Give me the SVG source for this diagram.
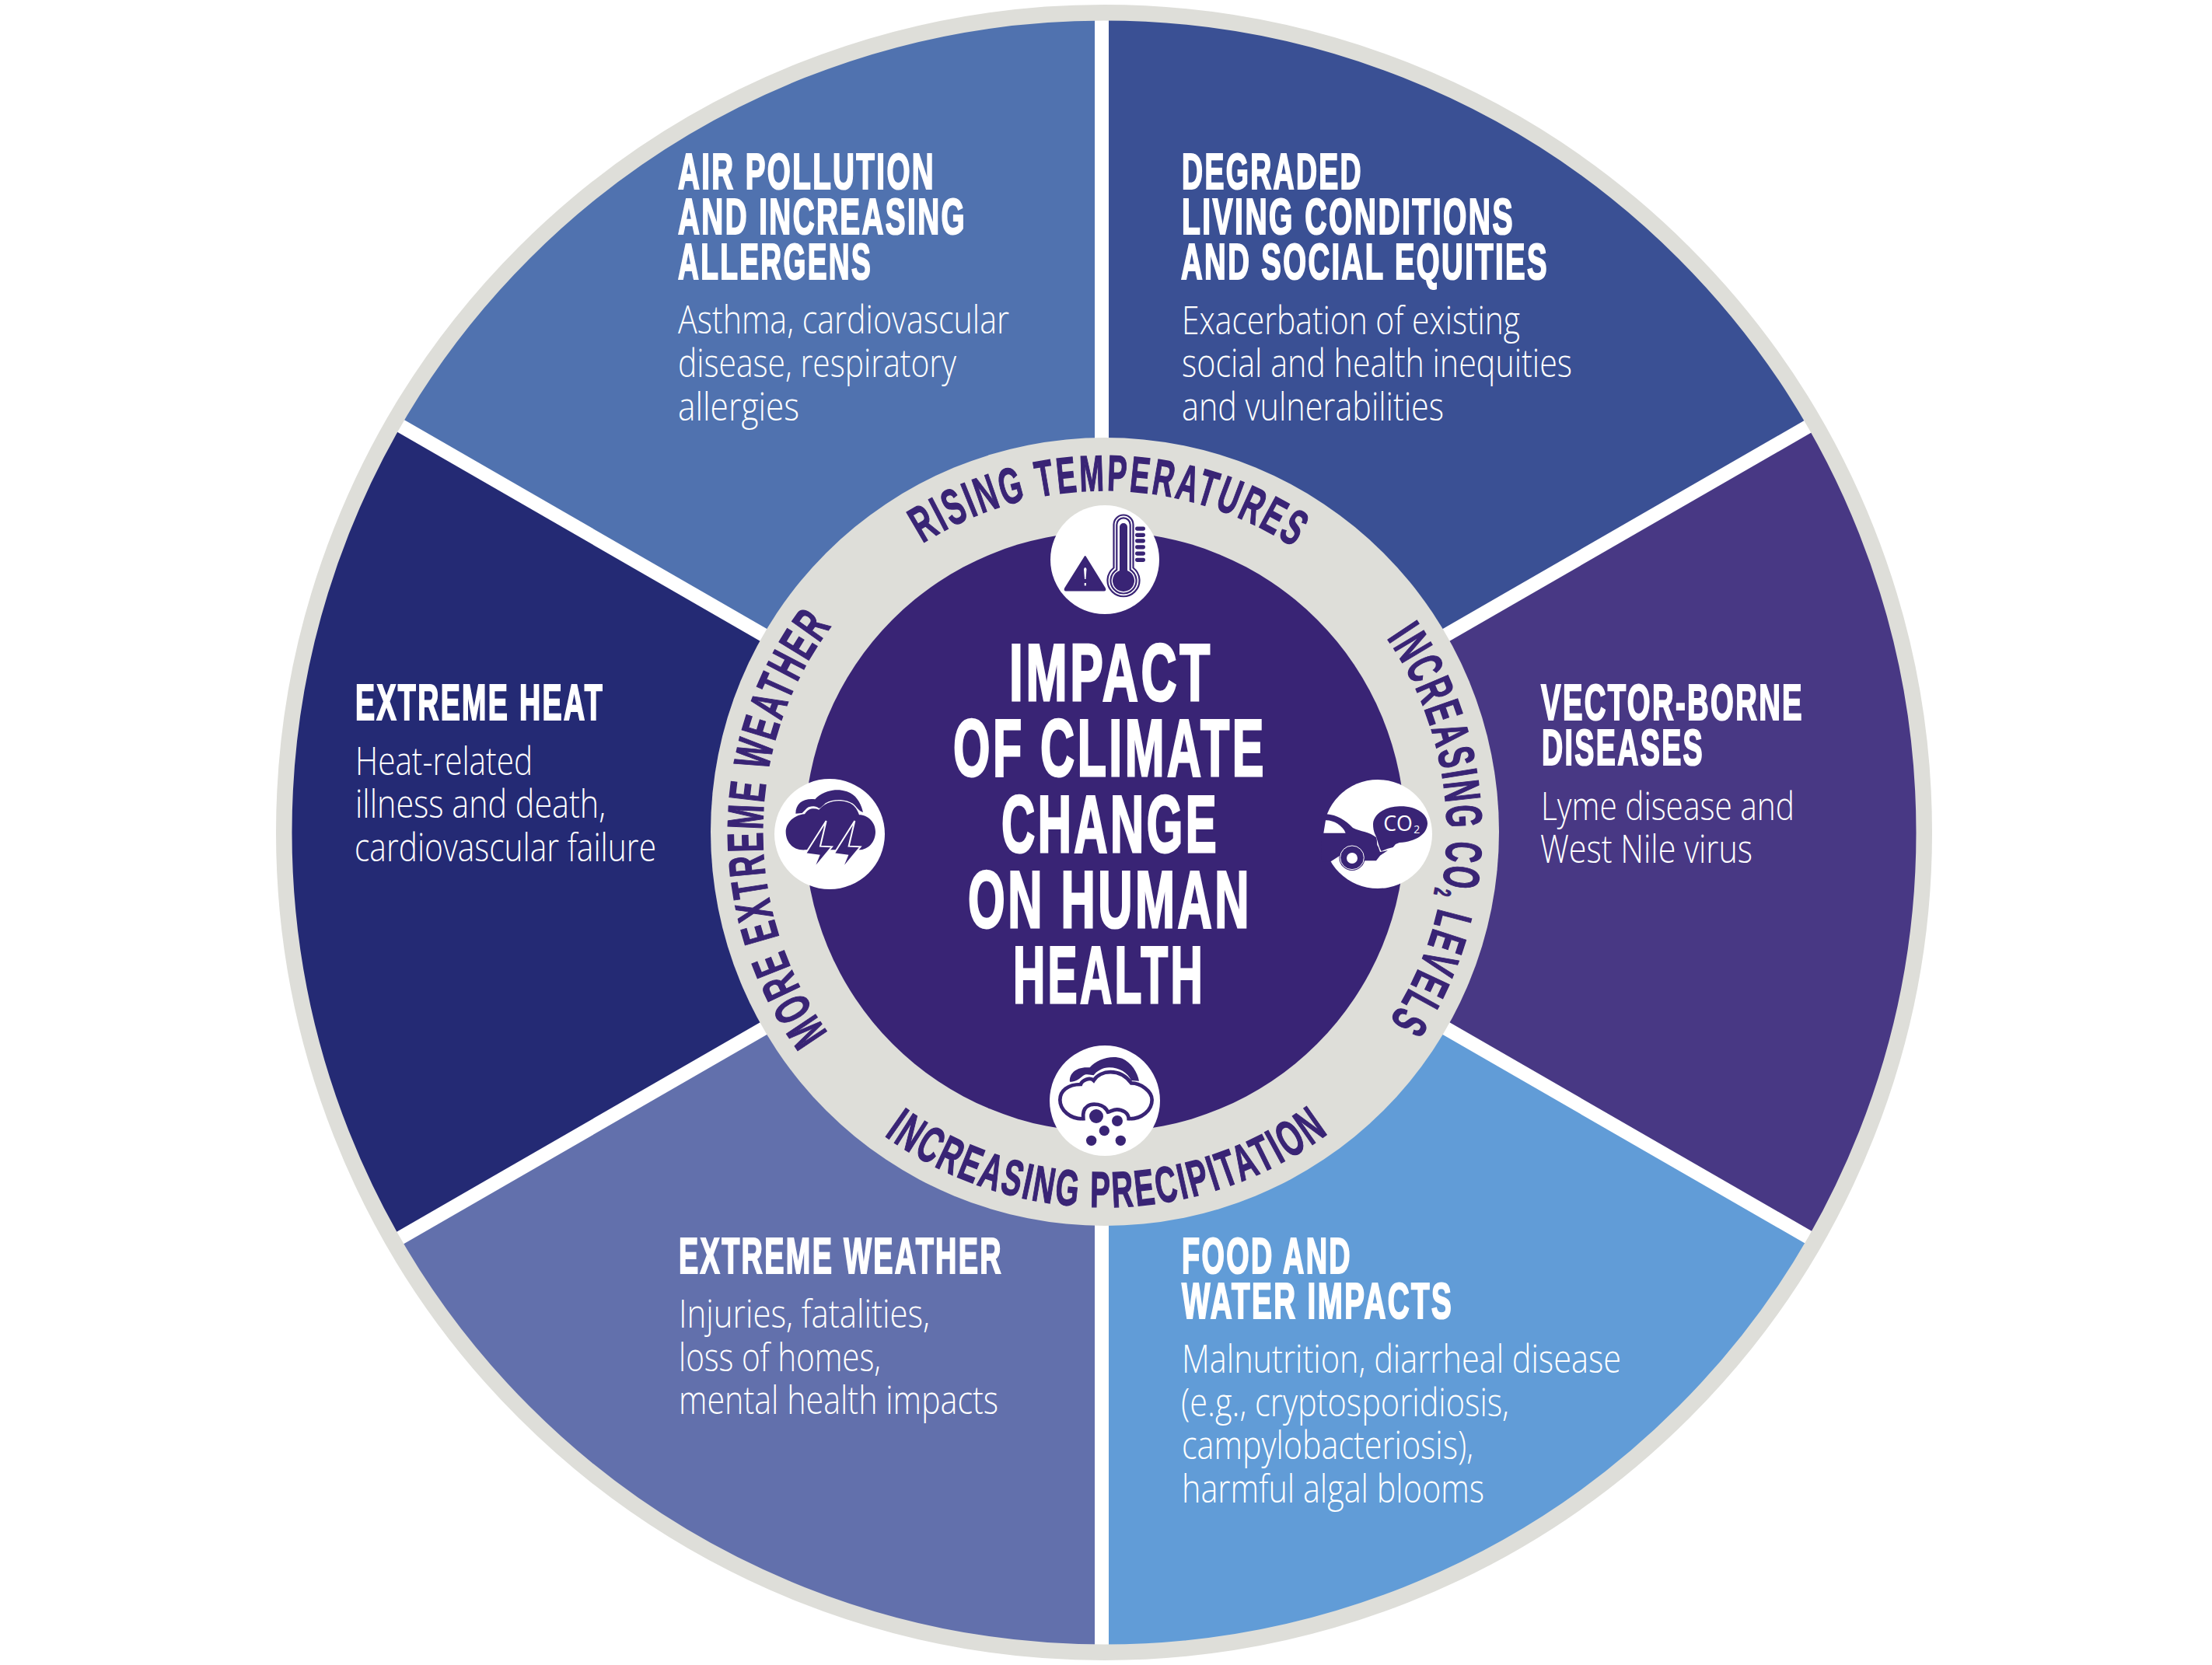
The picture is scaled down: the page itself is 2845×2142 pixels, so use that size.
<svg xmlns="http://www.w3.org/2000/svg" width="2845" height="2142" viewBox="0 0 2845 2142">
<style>
.h{font-family:"Liberation Sans Narrow","Liberation Sans",sans-serif;font-weight:700;font-size:64px;letter-spacing:4px;fill:#fff;stroke:#fff;stroke-width:2.2px}
.b{font-family:"Open Sans","Noto Sans",sans-serif;font-weight:300;font-size:50px;fill:#fff}
.t{font-family:"Liberation Sans Narrow","Liberation Sans",sans-serif;font-weight:700;font-size:104px;letter-spacing:6px;fill:#fff;stroke:#fff;stroke-width:3px}
.c{font-family:"Liberation Sans Narrow","Liberation Sans",sans-serif;font-weight:700;font-size:65px;letter-spacing:5px;fill:#392475;stroke:#392475;stroke-width:1.4px}
.d{fill:#392475}
.w{fill:#fff}
.co{font-family:"Open Sans","Noto Sans",sans-serif;font-weight:400;fill:#fff}
</style>
<defs>
<path id="arcTop" d="M1186.4,699.1 A439,439 0 0 1 1703.2,733.7"/>
<path id="arcRight" d="M1783.6,820.8 A440,440 0 0 1 1758,1352.8"/>
<path id="arcLeft" d="M1065,1328.6 A440,440 0 0 1 1104.5,764.3"/>
<path id="arcBottom" d="M1137.1,1460.8 A483,483 0 0 0 1756.5,1417.4"/>
</defs>
<rect width="2845" height="2142" fill="#fff"/>

<g id="node-air-pollution">
<path d="M1417,1070 V15 A1055,1055 0 0 0 507,545 Z" fill="#5072AF"/>
<text class="h" x="872" y="243" textLength="331" lengthAdjust="spacingAndGlyphs">AIR POLLUTION</text>
<text class="h" x="872" y="301" textLength="371" lengthAdjust="spacingAndGlyphs">AND INCREASING</text>
<text class="h" x="872" y="359" textLength="250" lengthAdjust="spacingAndGlyphs">ALLERGENS</text>
<text class="b" x="872" y="429" textLength="426" lengthAdjust="spacingAndGlyphs">Asthma, cardiovascular</text>
<text class="b" x="872" y="485" textLength="358" lengthAdjust="spacingAndGlyphs">disease, respiratory</text>
<text class="b" x="872" y="541" textLength="156" lengthAdjust="spacingAndGlyphs">allergies</text>
</g>
<g id="node-degraded-living">
<path d="M1417,1070 V15 A1055,1055 0 0 1 2335,545 Z" fill="#3A5094"/>
<text class="h" x="1520" y="243" textLength="233" lengthAdjust="spacingAndGlyphs">DEGRADED</text>
<text class="h" x="1520" y="301" textLength="428" lengthAdjust="spacingAndGlyphs">LIVING CONDITIONS</text>
<text class="h" x="1519" y="359" textLength="473" lengthAdjust="spacingAndGlyphs">AND SOCIAL EQUITIES</text>
<text class="b" x="1520" y="430" textLength="435" lengthAdjust="spacingAndGlyphs">Exacerbation of existing</text>
<text class="b" x="1520" y="485" textLength="502" lengthAdjust="spacingAndGlyphs">social and health inequities</text>
<text class="b" x="1520" y="541" textLength="337" lengthAdjust="spacingAndGlyphs">and vulnerabilities</text>
</g>
<g id="node-vector-borne">
<path d="M1421,1070 L2335,545 A1055,1055 0 0 1 2335,1595 Z" fill="#483884"/>
<text class="h" x="1982" y="926" textLength="338" lengthAdjust="spacingAndGlyphs">VECTOR-BORNE</text>
<text class="h" x="1983" y="984" textLength="209" lengthAdjust="spacingAndGlyphs">DISEASES</text>
<text class="b" x="1982" y="1055" textLength="326" lengthAdjust="spacingAndGlyphs">Lyme disease and</text>
<text class="b" x="1981" y="1110" textLength="273" lengthAdjust="spacingAndGlyphs">West Nile virus</text>
</g>
<g id="node-food-water">
<path d="M1417,1070 L2335,1595 A1055,1055 0 0 1 1417,2125 Z" fill="#619CD7"/>
<text class="h" x="1520" y="1638" textLength="219" lengthAdjust="spacingAndGlyphs">FOOD AND</text>
<text class="h" x="1520" y="1696" textLength="349" lengthAdjust="spacingAndGlyphs">WATER IMPACTS</text>
<text class="b" x="1520" y="1766" textLength="565" lengthAdjust="spacingAndGlyphs">Malnutrition, diarrheal disease</text>
<text class="b" x="1519" y="1822" textLength="422" lengthAdjust="spacingAndGlyphs">(e.g., cryptosporidiosis,</text>
<text class="b" x="1520" y="1877" textLength="375" lengthAdjust="spacingAndGlyphs">campylobacteriosis),</text>
<text class="b" x="1520" y="1933" textLength="389" lengthAdjust="spacingAndGlyphs">harmful algal blooms</text>
</g>
<g id="node-extreme-weather">
<path d="M1417,1070 L507,1595 A1055,1055 0 0 0 1417,2125 Z" fill="#6270AC"/>
<text class="h" x="873" y="1638" textLength="417" lengthAdjust="spacingAndGlyphs">EXTREME WEATHER</text>
<text class="b" x="873" y="1708" textLength="323" lengthAdjust="spacingAndGlyphs">Injuries, fatalities,</text>
<text class="b" x="873" y="1764" textLength="260" lengthAdjust="spacingAndGlyphs">loss of homes,</text>
<text class="b" x="873" y="1819" textLength="411" lengthAdjust="spacingAndGlyphs">mental health impacts</text>
</g>
<g id="node-extreme-heat">
<path d="M1421,1070 L507,545 A1055,1055 0 0 0 507,1595 Z" fill="#242A74"/>
<text class="h" x="457" y="926" textLength="320" lengthAdjust="spacingAndGlyphs">EXTREME HEAT</text>
<text class="b" x="457" y="997" textLength="228" lengthAdjust="spacingAndGlyphs">Heat-related</text>
<text class="b" x="457" y="1052" textLength="322" lengthAdjust="spacingAndGlyphs">illness and death,</text>
<text class="b" x="456" y="1108" textLength="388" lengthAdjust="spacingAndGlyphs">cardiovascular failure</text>
</g>

<g id="connectors" stroke="#fff" stroke-width="18" fill="none">
<path d="M1417,10 V2130"/>
<path d="M500,539 L2342,1601"/>
<path d="M500,1601 L2342,539"/>
</g>

<g id="outer-ring"><circle cx="1420" cy="1071" r="1054.75" fill="none" stroke="#DEDED9" stroke-width="20.5"/></g>

<g id="node-hub">
<circle cx="1421" cy="1070" r="507" fill="#DEDED9"/>
<circle cx="1421" cy="1070" r="386" fill="#392475"/>
<text class="t" x="1298" y="901" textLength="262" lengthAdjust="spacingAndGlyphs">IMPACT</text>
<text class="t" x="1226" y="998" textLength="403" lengthAdjust="spacingAndGlyphs">OF CLIMATE</text>
<text class="t" x="1288" y="1096" textLength="280" lengthAdjust="spacingAndGlyphs">CHANGE</text>
<text class="t" x="1245" y="1193" textLength="365" lengthAdjust="spacingAndGlyphs">ON HUMAN</text>
<text class="t" x="1303" y="1290" textLength="247" lengthAdjust="spacingAndGlyphs">HEALTH</text>
</g>

<g id="node-rising-temperatures">
<text class="c"><textPath href="#arcTop" textLength="507" lengthAdjust="spacingAndGlyphs">RISING TEMPERATURES</textPath></text>
<circle class="w" cx="1421" cy="720" r="70"/>
<g fill="none" stroke="#392475" stroke-width="2.2">
<path d="M1432.5,730.5 V675 A12.5,12.5 0 0 1 1457.5,675 V730.5 A20.5,20.5 0 1 1 1432.5,730.5 Z"/>
<path d="M1436.3,733 V675 A8.7,8.7 0 0 1 1453.7,675 V733 A16.5,16.5 0 1 1 1436.3,733 Z"/>
</g>
<path class="d" d="M1440,734 V678 A5,5 0 0 1 1450,678 V734 A14,14 0 1 1 1440,734 Z"/>
<g class="d">
<rect x="1460" y="677.5" width="13" height="5.2" rx="2.4"/><rect x="1460" y="685.7" width="13" height="5.2" rx="2.4"/><rect x="1460" y="693.2" width="13" height="5.2" rx="2.4"/><rect x="1460" y="701.2" width="13" height="5.2" rx="2.4"/><rect x="1460" y="709.5" width="13" height="5.2" rx="2.4"/><rect x="1460" y="717.7" width="13" height="5.2" rx="2.4"/>
</g>
<path class="d" d="M1395.7,716 L1421,757 Q1422,759.5 1420,759.5 H1371 Q1369,759.5 1370,757 Z" stroke="#392475" stroke-width="2" stroke-linejoin="round"/>
<path class="w" d="M1394,732 Q1395.7,728 1397.5,732 L1396.5,745 H1395 Z"/>
<rect class="w" x="1394.7" y="750" width="2.2" height="3.4"/>
</g>

<g id="node-co2-levels">
<text class="c"><textPath href="#arcRight" textLength="526" lengthAdjust="spacingAndGlyphs">INCREASING CO<tspan font-size="30" dy="9">2</tspan><tspan dy="-9"> LEVELS</tspan></textPath></text>
<circle class="w" cx="1772" cy="1073" r="70"/>
<g transform="translate(1690,990) scale(.3333)">
<path class="d" d="M30,172 H48 C90,175 120,195 150,225 C180,240 215,240 240,262 C246,280 240,290 248,298 L255,318 L285,312 L255,332 L240,352 L195,352 L150,300 L65,355 L30,355 Z"/>
<path class="w" d="M37,245 L45,196 C75,195 110,215 122,245 Z"/>
<circle class="d" cx="147" cy="340" r="50"/>
<circle cx="147" cy="340" r="46" fill="none" stroke="#fff" stroke-width="3"/>
<circle class="w" cx="147" cy="342" r="21"/>
<path class="d" d="M228,210 C230,170 280,140 335,142 C400,142 440,175 438,210 C435,250 395,278 330,282 L315,288 L305,300 L285,305 L260,315 C250,300 245,270 238,255 C230,240 228,225 228,210 Z"/>
<text class="co" x="268" y="238" font-size="80">CO</text>
<text class="co" x="385" y="245" font-size="42">2</text>
</g>
</g>

<g id="node-more-extreme-weather">
<text class="c"><textPath href="#arcLeft" textLength="563" lengthAdjust="spacingAndGlyphs">MORE EXTREME WEATHER</textPath></text>
<circle class="w" cx="1067" cy="1073" r="71"/>
<g transform="translate(990,990) scale(.3333)">
<path class="d" d="M100,170 C100,130 130,110 175,115 C200,85 260,65 310,90 C340,105 355,140 360,165 C345,160 340,150 325,135 C300,115 250,110 215,130 C205,140 195,150 190,150 C180,140 165,140 150,145 C140,150 135,160 125,168 Z"/>
<path class="d" d="M135,172 C150,148 170,148 190,155 C215,125 265,110 310,130 C330,140 340,160 345,175 C380,175 408,205 408,240 C408,280 380,310 345,310 L140,310 C90,315 62,280 62,240 C62,205 95,175 135,172 Z"/>
<path class="d" stroke="#fff" stroke-width="6" stroke-linejoin="miter" d="M218,198 L138,325 L190,332 L168,385 L240,298 L195,296 Z"/>
<path class="d" stroke="#fff" stroke-width="6" stroke-linejoin="miter" d="M328,198 L248,325 L300,332 L278,385 L350,298 L305,296 Z"/>
</g>
</g>

<g id="node-increasing-precipitation">
<text class="c"><textPath href="#arcBottom" textLength="614" lengthAdjust="spacingAndGlyphs">INCREASING PRECIPITATION</textPath></text>
<circle class="w" cx="1421" cy="1416" r="71"/>
<g transform="translate(1340,1340) scale(.3333)">
<path class="d" d="M108,155 C105,125 130,95 185,100 C210,70 265,50 310,65 C345,80 370,120 375,152 L345,150 C330,120 300,100 260,100 C235,100 210,115 200,130 C190,130 180,125 165,128 C150,135 145,150 115,155 Z"/>
<path fill="#fff" stroke="#392475" stroke-width="14" d="M160,298 C110,300 70,265 70,225 C70,190 100,165 150,165 C155,150 185,135 200,150 C225,110 300,100 345,160 C380,160 425,190 425,225 C425,265 385,300 335,298 C335,275 310,262 290,262 C275,262 265,270 255,272 C240,240 195,235 175,250 C160,260 158,280 160,298 Z"/>
<circle class="w" cx="210" cy="288" r="38"/>
<circle class="w" cx="291" cy="306" r="32"/>
<path fill="#fff" d="M150,305 H345 V330 H150 Z"/>
<circle class="d" cx="210" cy="288" r="27"/>
<circle class="d" cx="291" cy="306" r="21"/>
<circle class="d" cx="241" cy="344" r="20"/>
<circle class="d" cx="191" cy="382" r="20"/>
<circle class="d" cx="304" cy="382" r="20"/>
</g>
</g>
</svg>
